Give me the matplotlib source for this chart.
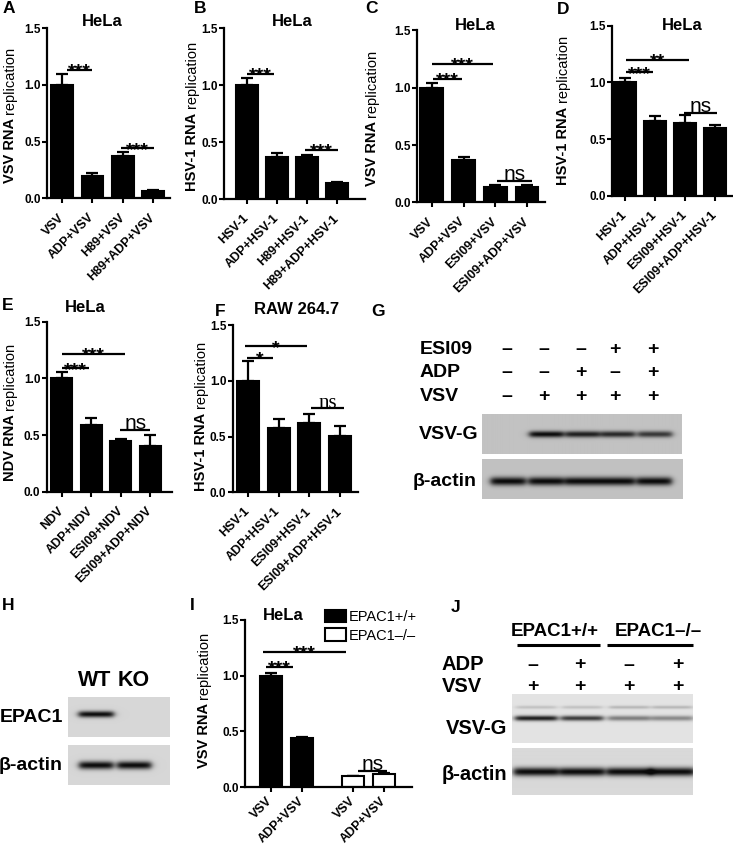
import numpy as np
import matplotlib
matplotlib.use('Agg')
import matplotlib.pyplot as plt
from matplotlib.transforms import ScaledTranslation

plt.rcParams['font.family'] = ['Liberation Sans', 'DejaVu Sans']

W, H = 733, 849

# ---- данные столбчатых диаграмм ----
a_labels = ['VSV', 'ADP+VSV', 'H89+VSV', 'H89+ADP+VSV']
a_vals = [1.0, 0.20, 0.373, 0.067]
a_errs = [0.10, 0.026, 0.036, 0.008]
a_sig = [(0.15, 0.97, 1.13, '***'), (1.93, 3.03, 0.44, '***')]

b_labels = ['HSV-1', 'ADP+HSV-1', 'H89+HSV-1', 'H89+ADP+HSV-1']
b_vals = [1.0, 0.368, 0.368, 0.146]
b_errs = [0.06, 0.04, 0.02, 0.008]
b_sig = [(0.0, 0.9, 1.10, '***'), (1.93, 3.03, 0.432, '***')]

c_labels = ['VSV', 'ADP+VSV', 'ESI09+VSV', 'ESI09+ADP+VSV']
c_vals = [1.0, 0.365, 0.135, 0.135]
c_errs = [0.044, 0.03, 0.015, 0.012]
c_sig = [(0.0, 1.92, 1.204, '***'), (0.03, 0.95, 1.078, '***'), (2.06, 3.15, 0.188, 'ns')]

d_labels = ['HSV-1', 'ADP+HSV-1', 'ESI09+HSV-1', 'ESI09+ADP+HSV-1']
d_vals = [1.0, 0.663, 0.645, 0.598]
d_errs = [0.035, 0.037, 0.067, 0.026]
d_sig = [(0.03, 2.13, 1.198, '**'), (0.03, 0.93, 1.088, '***'), (1.97, 3.07, 0.733, 'ns')]

e_labels = ['NDV', 'ADP+NDV', 'ESI09+NDV', 'ESI09+ADP+NDV']
e_vals = [1.0, 0.588, 0.447, 0.403]
e_errs = [0.053, 0.059, 0.02, 0.097]
e_sig = [(0.0, 2.15, 1.214, '***'), (0.0, 0.93, 1.088, '***'), (1.98, 3.0, 0.544, 'ns')]

f_labels = ['HSV-1', 'ADP+HSV-1', 'ESI09+HSV-1', 'ESI09+ADP+HSV-1']
f_vals = [1.0, 0.58, 0.622, 0.51]
f_errs = [0.18, 0.075, 0.084, 0.083]
f_sig = [(-0.1, 1.93, 1.31, '*'), (-0.03, 0.82, 1.21, '*'), (2.07, 3.15, 0.755, 'ns')]

i_labels = ['VSV', 'ADP+VSV', 'VSV', 'ADP+VSV']
i_pos = [0, 1, 2.65, 3.65]
i_vals = [1.0, 0.44, 0.104, 0.12]
i_errs = [0.02, 0.013, 0.0, 0.005]
i_groups = ['EPAC1+/+', 'EPAC1+/+', 'EPAC1\u2013/\u2013', 'EPAC1\u2013/\u2013']
i_sig = [(-0.26, 2.42, 1.214, '***'), (-0.16, 0.71, 1.08, '***'), (2.8, 3.74, 0.149, 'ns')]

# ---- данные блотов ----
g_rows = ['ESI09', 'ADP', 'VSV']
g_signs = [['\u2013', '\u2013', '\u2013', '+', '+'],
           ['\u2013', '\u2013', '+', '\u2013', '+'],
           ['\u2013', '+', '+', '+', '+']]
g_vsvg = [0.0, 0.95, 0.85, 0.8, 0.72]
g_actin = [0.95, 0.95, 0.95, 0.95, 0.95]

h_lanes = ['WT', 'KO']
h_epac = [0.95, 0.0]
h_actin = [0.95, 0.95]

j_groups = ['EPAC1+/+', 'EPAC1\u2013/\u2013']
j_rows = ['ADP', 'VSV']
j_signs = [['\u2013', '+', '\u2013', '+'],
           ['+', '+', '+', '+']]
j_vsvg = [0.88, 0.75, 0.45, 0.4]
j_upper = [0.15, 0.15, 0.2, 0.2]
j_actin = [0.95, 0.95, 0.95, 0.95]

fig = plt.figure(figsize=(W / 100, H / 100), dpi=100)


# прямоугольник в пикселях (лево, верх, право, низ) -> координаты фигуры
def px(l, t, r, b):
    return [l / W, 1 - b / H, (r - l) / W, (b - t) / H]


def bar_panel(rect, xlim, pos, vals, errs, labels, sigs, faces=None, ns_family=None, xpad=9):
    ax = fig.add_axes(px(*rect))
    if faces is None:
        faces = ['black'] * len(vals)
    bars = ax.bar(pos, vals, width=0.72, color=faces, edgecolor='black', linewidth=1.5, zorder=2)
    ax.errorbar(pos, vals, yerr=[np.zeros(len(errs)), errs], fmt='none', ecolor='black',
                elinewidth=1.6, capsize=4.3, capthick=1.6, zorder=1)
    ax.set_xlim(*xlim)
    ax.set_ylim(0, 1.5)
    ax.set_yticks([0, 0.5, 1.0, 1.5])
    ax.set_yticklabels(['0.0', '0.5', '1.0', '1.5'], fontsize=8.5, fontweight='bold')
    ax.set_xticks(pos)
    ax.set_xticklabels(labels, rotation=45, ha='right', va='center', rotation_mode='anchor',
                       fontsize=9, fontweight='bold')
    shift = ScaledTranslation(3 / 100, 0, fig.dpi_scale_trans)
    for lab in ax.get_xticklabels():
        lab.set_transform(lab.get_transform() + shift)
    ax.tick_params(axis='both', width=1.5, length=3.5, pad=1)
    ax.tick_params(axis='x', pad=xpad)
    for s in ['top', 'right']:
        ax.spines[s].set_visible(False)
    for s in ['left', 'bottom']:
        ax.spines[s].set_linewidth(1.6)
    ax.patch.set_alpha(0)
    for x0, x1, y, txt in sigs:
        ax.plot([x0, x1], [y, y], color='black', lw=1.6, clip_on=False, solid_capstyle='butt')
        if txt == 'ns':
            fam = ns_family if ns_family else ['Liberation Sans']
            ax.annotate(txt, ((x0 + x1) / 2, y), xytext=(0, 0.5), textcoords='offset points',
                        ha='center', va='baseline', fontsize=15, family=fam, annotation_clip=False)
        else:
            ax.annotate(txt, ((x0 + x1) / 2, y), xytext=(0, -4.5), textcoords='offset points',
                        ha='center', va='baseline', fontsize=14, fontweight='bold', annotation_clip=False)
    return ax, bars


# блот: серый фон и полосы; rows = [(дорожки, интенсивности, y полосы, толщина, ширина)]
def blot(rect, bg, rows):
    x0, y0, x1, y1 = rect
    ax = fig.add_axes(px(*rect))
    ax.set_xlim(x0, x1)
    ax.set_ylim(y1, y0)
    ax.axis('off')
    X, Y = np.meshgrid(np.arange(x0, x1, 0.5), np.arange(y0, y1, 0.5))
    dark = np.zeros(X.shape)
    for lanes, intens, band_y, sigma, band_w in rows:
        for cx, a in zip(lanes, intens):
            hx = 1 / (1 + np.exp((np.abs(X - cx) - band_w / 2) / 1.8))
            vy = np.exp(-((Y - band_y) / sigma) ** 2)
            dark += a * hx * vy
    img = bg * (1 - np.clip(dark, 0, 0.95))
    ax.imshow(img, cmap='gray', vmin=0, vmax=1, extent=[x0, x1, y1, y0],
              aspect='auto', interpolation='bilinear')
    return ax


# ---- столбчатые панели ----
bar_panel((47, 28.3, 170, 198.3), (-0.5, 3.56), range(4), a_vals, a_errs, a_labels, a_sig)
bar_panel((224, 28.3, 365, 199.3), (-0.77, 3.93), range(4), b_vals, b_errs, b_labels, b_sig)
bar_panel((417, 30.4, 545, 202.3), (-0.47, 3.57), range(4), c_vals, c_errs, c_labels, c_sig)
bar_panel((612, 25.5, 733, 196), (-0.43, 3.6), range(4), d_vals, d_errs, d_labels, d_sig)
bar_panel((46.7, 321.7, 172, 491.7), (-0.51, 3.74), range(4), e_vals, e_errs, e_labels, e_sig)
bar_panel((232.7, 325.3, 358, 492.3), (-0.5, 3.6), range(4), f_vals, f_errs, f_labels, f_sig,
          ns_family=['Liberation Serif'])
ax_i, bars_i = bar_panel((245, 619.8, 412, 787.3), (-0.84, 4.55), i_pos, i_vals, i_errs, i_labels,
                         i_sig, faces=['black', 'black', 'white', 'white'], xpad=5)
ax_i.legend([bars_i[0], bars_i[2]], [i_groups[0], i_groups[2]], loc='upper left',
            bbox_to_anchor=(325 / W, 1 - 610 / H), bbox_transform=fig.transFigure,
            frameon=False, fontsize=10.5, handlelength=1.45, handleheight=0.9,
            handletextpad=0.2, borderpad=0, borderaxespad=0, labelspacing=0.3)

# ---- блоты ----
g_lanes = [508, 546, 582, 617, 654]
blot((482, 414, 681, 454), 0.76, [(g_lanes, g_vsvg, 434, 3.2, 34)])
blot((482, 459, 683, 499), 0.76, [(g_lanes, g_actin, 481, 4.2, 35)])

blot((68, 697, 170, 737), 0.84, [([96, 134], h_epac, 714, 3.2, 35)])
blot((68, 745, 170, 785), 0.84, [([96, 134], h_actin, 765, 4.0, 34)])

j_lanes = [536, 582, 629, 672]
blot((512, 694, 693, 743), 0.89, [(j_lanes, j_vsvg, 718, 2.6, 42), (j_lanes, j_upper, 707, 1.6, 40)])
blot((512, 748, 693, 795), 0.85, [(j_lanes, j_actin, 772, 4.2, 45)])

# ---- слой для подписей в пикселях ----
ov = fig.add_axes([0, 0, 1, 1], zorder=10)
ov.set_xlim(0, W)
ov.set_ylim(H, 0)
ov.axis('off')
ov.patch.set_alpha(0)

for s, x, y in [('A', 9, 8), ('B', 200, 8), ('C', 371, 8), ('D', 563, 9), ('E', 8, 305),
                ('F', 220, 312), ('G', 378, 312), ('H', 8, 605), ('I', 192, 605), ('J', 456, 608)]:
    ov.text(x, y, s, fontsize=12.5, fontweight='bold', ha='center', va='center')

for s, x, y in [('HeLa', 102, 21), ('HeLa', 292, 21), ('HeLa', 475, 25), ('HeLa', 682, 25),
                ('HeLa', 85, 308), ('RAW 264.7', 297, 310), ('HeLa', 283, 615)]:
    ov.text(x, y, s, fontsize=12, fontweight='bold', ha='center', va='center')

renderer = fig.canvas.get_renderer()


# подпись оси: жирная часть + обычное слово "replication"
def two_part_label(x, yc, bold_part, reg_part, size=10.5):
    t1 = ov.text(x, 0, bold_part, rotation=90, fontsize=size, fontweight='bold', ha='center', va='bottom')
    t2 = ov.text(x, 0, reg_part, rotation=90, fontsize=size, ha='center', va='bottom')
    h1 = t1.get_window_extent(renderer).height
    h2 = t2.get_window_extent(renderer).height
    gap = 4
    yb = yc + (h1 + gap + h2) / 2
    t1.set_y(yb)
    t2.set_y(yb - h1 - gap)


for x, y, name in [(10, 115, 'VSV'), (192, 116, 'HSV-1'), (372, 118, 'VSV'), (563, 110, 'HSV-1'),
                   (10, 412, 'NDV'), (201, 416, 'HSV-1'), (204, 700, 'VSV')]:
    two_part_label(x, y, name + ' RNA', 'replication')

# панель G
for row, y, signs in zip(g_rows, [349, 372, 396], g_signs):
    ov.text(420, y, row, fontsize=14, fontweight='bold', ha='left', va='center')
    for x, sg in zip([507, 544, 581, 615, 653], signs):
        ov.text(x, y, sg, fontsize=14, fontweight='bold', ha='center', va='center')
ov.text(478, 434, 'VSV-G', fontsize=14, fontweight='bold', ha='right', va='center')
ov.text(477, 481, '\u03b2-actin', fontsize=14, fontweight='bold', ha='right', va='center')

# панель H
for s, x in zip(h_lanes, [95, 134]):
    ov.text(x, 680, s, fontsize=15.5, fontweight='bold', ha='center', va='center')
ov.text(63, 717, 'EPAC1', fontsize=14, fontweight='bold', ha='right', va='center')
ov.text(63, 765, '\u03b2-actin', fontsize=14, fontweight='bold', ha='right', va='center')

# панель J
for s, x, (l0, l1) in zip(j_groups, [555, 658], [(517, 600), (607, 693)]):
    ov.text(x, 632, s, fontsize=13.5, fontweight='bold', ha='center', va='center')
    ov.plot([l0, l1], [645, 645], color='black', lw=2.2, solid_capstyle='butt')
for row, y, signs in zip(j_rows, [665, 687], j_signs):
    ov.text(442, y, row, fontsize=14.5, fontweight='bold', ha='left', va='center')
    for x, sg in zip([533, 580, 629, 678], signs):
        ov.text(x, y, sg, fontsize=14, fontweight='bold', ha='center', va='center')
ov.text(507, 728, 'VSV-G', fontsize=14.5, fontweight='bold', ha='right', va='center')
ov.text(507, 775, '\u03b2-actin', fontsize=14.5, fontweight='bold', ha='right', va='center')

fig.savefig('out.png', dpi=100)
